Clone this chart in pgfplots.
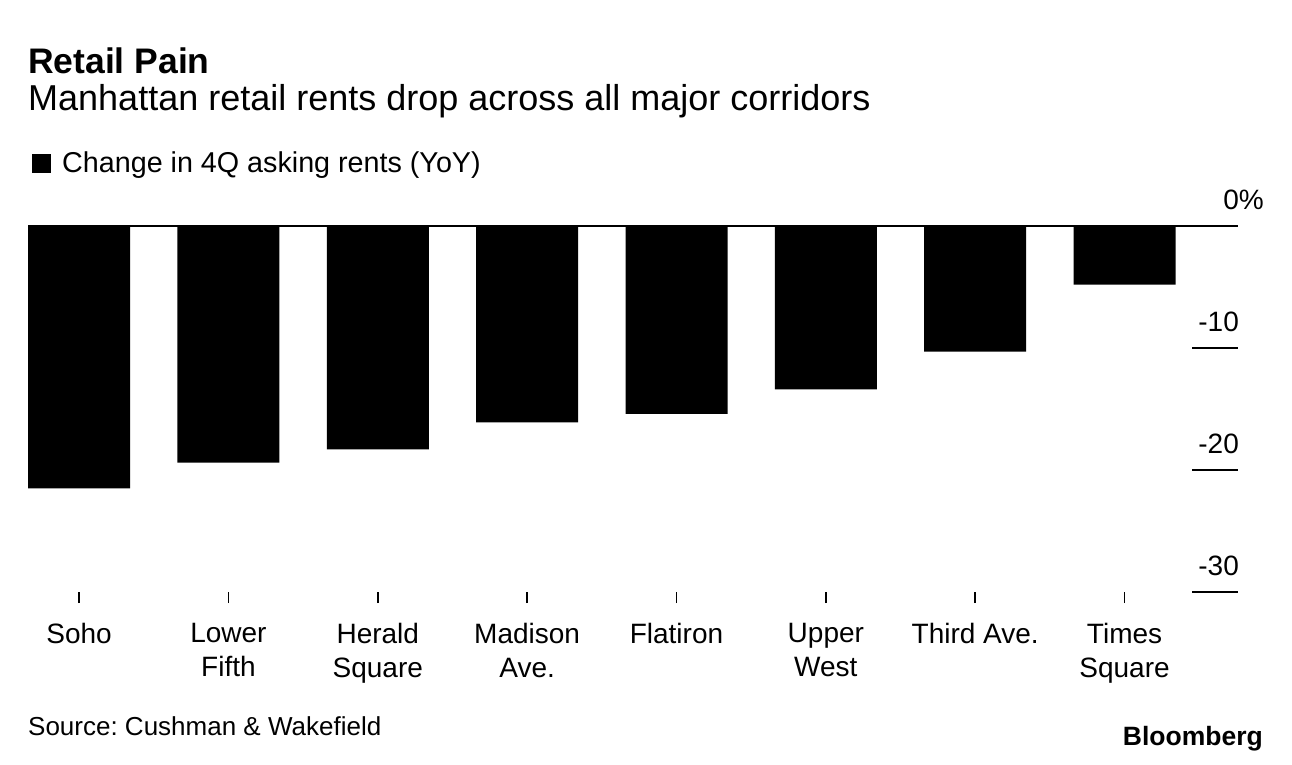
\documentclass[border=0pt]{standalone}
\usepackage{fontspec}
\setmainfont{Liberation Sans}
\usepackage{pgfplots}
\pgfplotsset{compat=1.18}
\frenchspacing

\begin{document}
\begin{tikzpicture}[x=1pt,y=1pt]
\useasboundingbox (0,0) rectangle (1292,764);

% headings
\node[anchor=base west, inner sep=0, font=\bfseries\fontsize{35.5}{40}\selectfont] at (28,690) {Retail Pain};
\node[anchor=base west, inner sep=0, font=\fontsize{36}{42}\selectfont] at (28,653) {Manhattan retail rents drop across all major corridors};
\fill[black] (32,591) rectangle ++(19,19);
\node[anchor=base west, inner sep=0, font=\fontsize{28.7}{34}\selectfont] at (62,591) {Change in 4Q asking rents (YoY)};

\begin{axis}[
    scale only axis,
    width=1210pt, height=366pt,
    at={(28pt,172pt)}, anchor=south west,
    xmin=-0.342, xmax=7.76,
    ymin=-30, ymax=0,
    axis line style={draw=none},
    ybar, bar width=102pt,
    xtick={0,...,7},
    xticklabels={{Soho\\\mbox{}},{Lower\\Fifth},{Herald\\Square},{Madison\\Ave.},{Flatiron\\\mbox{}},{Upper\\West},{Third Ave.\\\mbox{}},{Times\\Square}},
    xtick pos=bottom,
    tick align=outside,
    major tick length=11pt,
    xtick style={black, line width=1.5pt},
    xticklabel style={anchor=north, align=center, inner sep=0pt, yshift=-20pt,
        execute at begin node={\rule{0pt}{22pt}},
        font=\fontsize{28}{34}\selectfont},
    ytick={-30,-20,-10,0},
    yticklabels={-30,-20,-10,0\rlap{\%}},
    ytick pos=right, yticklabel pos=right,
    ytick style={draw=none},
    yticklabel style={anchor=base east, inner sep=0pt, xshift=-10pt, yshift=17pt,
        font=\fontsize{28}{34}\selectfont},
    ymajorgrids,
    major grid style={black, line width=1.6pt, dash pattern=on 0pt off 1164pt on 46pt off 10pt},
    extra y ticks={0},
    extra y tick labels={},
    extra y tick style={grid=major, major grid style={solid, black, line width=1.5pt}},
]
\addplot[fill=black, draw=none] coordinates {
    (0,-21.5) (1,-19.4) (2,-18.3) (3,-16.1)
    (4,-15.4) (5,-13.4) (6,-10.3) (7,-4.8)
};
\end{axis}

\node[anchor=base west, inner sep=0, font=\fontsize{26}{30}\selectfont] at (28,29) {Source: Cushman \& Wakefield};
\node[anchor=base east, inner sep=0, font=\bfseries\fontsize{26.5}{30}\selectfont] at (1263,19) {Bloomberg};
\end{tikzpicture}
\end{document}
